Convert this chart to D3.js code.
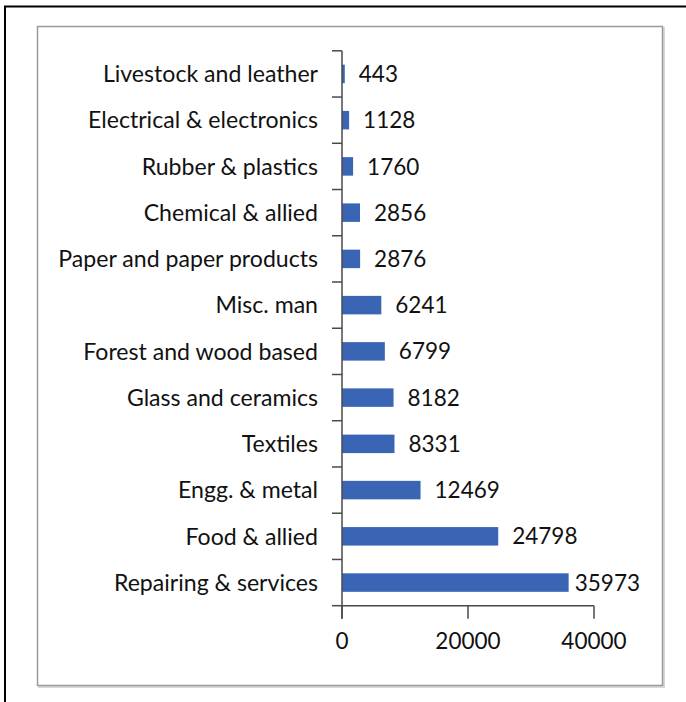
<!DOCTYPE html>
<html>
<head>
<meta charset="utf-8">
<script src="https://cdn.jsdelivr.net/npm/d3@7"></script>
<style>
  html, body { margin: 0; padding: 0; background: #fff; }
  svg { display: block; }
  text { font-family: Lato, "Open Sans", sans-serif; fill: #111; }
</style>
</head>
<body>
<svg id="chart" width="686" height="702"></svg>
<script>
const categories = [
  "Livestock and leather",
  "Electrical & electronics",
  "Rubber & plastics",
  "Chemical & allied",
  "Paper and paper products",
  "Misc. man",
  "Forest and wood based",
  "Glass and ceramics",
  "Textiles",
  "Engg. & metal",
  "Food & allied",
  "Repairing & services"
];
const values = [443, 1128, 1760, 2856, 2876, 6241, 6799, 8182, 8331, 12469, 24798, 35973];
const xTickValues = [0, 20000, 40000];

const svg = d3.select("#chart");

// outer black frame (extends past right/bottom edge)
svg.append("rect")
  .attr("x", 5).attr("y", 6.5).attr("width", 700).attr("height", 720)
  .attr("fill", "none").attr("stroke", "#000").attr("stroke-width", 2);

// inner gray frame with soft shadow
svg.append("rect")
  .attr("x", 39).attr("y", 28).attr("width", 625).attr("height", 659)
  .attr("fill", "none").attr("stroke", "#d8d8d8").attr("stroke-width", 2);
svg.append("rect")
  .attr("x", 37.5).attr("y", 26.5).attr("width", 625).attr("height", 659)
  .attr("fill", "#fff").attr("stroke", "#9a9a9a").attr("stroke-width", 1.5);

const x = d3.scaleLinear().domain([0, 40000]).range([342, 594]);
const y = d3.scaleBand().domain(categories).range([50.8, 605.7])
  .paddingInner(0.6).paddingOuter(0.3);

const axisColor = "#4a4a4a";
const fs = 22.5;
const fsCat = 23.1;

// bars
svg.append("g").selectAll("rect").data(categories).join("rect")
  .attr("x", x(0))
  .attr("y", d => y(d))
  .attr("width", (d, i) => x(values[i]) - x(0))
  .attr("height", y.bandwidth())
  .attr("fill", "#3a65b4");

// y axis line + ticks at band boundaries
const step = y.step();
const gapHalf = (step - y.bandwidth()) / 2;
const boundaries = categories.map(c => y(c) - gapHalf).concat([y(categories[categories.length - 1]) + y.bandwidth() + gapHalf]);
const yAxis = svg.append("g");
yAxis.append("line")
  .attr("x1", x(0)).attr("x2", x(0))
  .attr("y1", boundaries[0]).attr("y2", boundaries[boundaries.length - 1] + 13)
  .attr("stroke", axisColor).attr("stroke-width", 1.5);
yAxis.selectAll("line.t").data(boundaries).join("line").attr("class", "t")
  .attr("x1", x(0) - 10).attr("x2", x(0))
  .attr("y1", d => d).attr("y2", d => d)
  .attr("stroke", axisColor).attr("stroke-width", 1.5);

// category labels
svg.append("g").selectAll("text").data(categories).join("text")
  .attr("x", 318)
  .attr("y", d => y(d) + y.bandwidth() / 2 + fsCat * 0.36)
  .attr("text-anchor", "end")
  .attr("font-size", fsCat)
  .text(d => d);

// x axis
const xAxisY = boundaries[boundaries.length - 1];
const xAxis = svg.append("g");
xAxis.append("line")
  .attr("x1", x(0)).attr("x2", x(40000))
  .attr("y1", xAxisY).attr("y2", xAxisY)
  .attr("stroke", axisColor).attr("stroke-width", 1.5);
xAxis.selectAll("line.t").data(xTickValues).join("line").attr("class", "t")
  .attr("x1", d => x(d)).attr("x2", d => x(d))
  .attr("y1", xAxisY).attr("y2", xAxisY + 13)
  .attr("stroke", axisColor).attr("stroke-width", 1.5);
xAxis.selectAll("text").data(xTickValues).join("text")
  .attr("x", d => x(d))
  .attr("y", 649)
  .attr("text-anchor", "middle")
  .attr("font-size", fs)
  .text(d => d);

// value labels
svg.append("g").selectAll("text").data(categories).join("text")
  .attr("y", d => y(d) + y.bandwidth() / 2 + fs * 0.36)
  .attr("font-size", fs)
  .text((d, i) => values[i])
  .each(function(d, i) {
    const w = this.getComputedTextLength();
    const px = Math.min(x(values[i]) + 14, 640 - w);
    d3.select(this).attr("x", px);
  });
</script>
</body>
</html>
